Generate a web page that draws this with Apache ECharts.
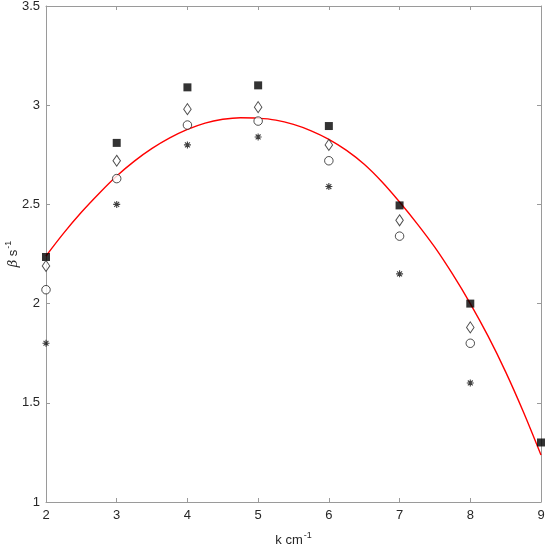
<!DOCTYPE html>
<html>
<head>
<meta charset="utf-8">
<script src="https://cdn.jsdelivr.net/npm/echarts@6/dist/echarts.min.js"></script>
<style>html,body{margin:0;padding:0;background:#fff;}#c{width:550px;height:547px;}</style>
</head>
<body>
<div id="c"></div>
<script>
// Data
const kValues = [2, 3, 4, 5, 6, 7, 8, 9];
const squareBeta   = [2.235, 2.81, 3.09, 3.10, 2.895, 2.495, 2.00, 1.30];
const diamondBeta  = [2.19, 2.72, 2.98, 2.99, 2.80, 2.42, 1.88, null];
const circleBeta   = [2.07, 2.63, 2.90, 2.92, 2.72, 2.34, 1.80, null];
const asteriskBeta = [1.80, 2.50, 2.80, 2.84, 2.59, 2.15, 1.60, null];
const fitK    = [2, 2.25, 2.5, 2.75, 3, 3.25, 3.5, 3.75, 4, 4.25, 4.5, 4.75, 5, 5.25, 5.5, 5.75, 6, 6.25, 6.5, 6.75, 7, 7.25, 7.5, 7.75, 8, 8.25, 8.5, 8.75, 9];
const fitBeta = [2.24, 2.355, 2.46, 2.555, 2.643, 2.718, 2.782, 2.835, 2.878, 2.91, 2.929, 2.937, 2.935, 2.925, 2.903, 2.871, 2.828, 2.772, 2.702, 2.614, 2.512, 2.402, 2.283, 2.148, 2.0, 1.837, 1.656, 1.455, 1.237];
const xTicks = [2, 3, 4, 5, 6, 7, 8, 9];
const yTicks = [1, 1.5, 2, 2.5, 3, 3.5];

function pairs(xs, ys) {
  const out = [];
  for (let i = 0; i < xs.length; i++) if (ys[i] != null) out.push([xs[i], ys[i]]);
  return out;
}

const font = 'Liberation Sans, Arial, Helvetica, sans-serif';
const axisColor = '#9a9a9a';
const labelColor = '#262626';
const asteriskPath = 'path://M5,0 L5,10 M0,5 L10,5 M1.5,1.5 L8.5,8.5 M1.5,8.5 L8.5,1.5';

const chart = echarts.init(document.getElementById('c'), null, {renderer: 'canvas'});
const commonAxisLine = {show: true, lineStyle: {color: axisColor, width: 1}};
const commonTick = {show: true, inside: true, length: 4, lineStyle: {color: axisColor}};

chart.setOption({
  animation: false,
  backgroundColor: '#fff',
  grid: {left: 46, right: 9, top: 6, bottom: 45, containLabel: false, outerBoundsMode: 'none'},
  xAxis: [{
    type: 'value', min: xTicks[0], max: xTicks[xTicks.length - 1], interval: 1,
    position: 'bottom',
    axisLine: commonAxisLine, axisTick: commonTick, splitLine: {show: false},
    axisLabel: {color: labelColor, fontFamily: font, fontSize: 13, margin: 7},
    name: '{n|k cm}{s|-1}', nameLocation: 'middle', nameGap: 29, nameMoveOverlap: false,
    nameTextStyle: {
      color: labelColor, fontFamily: font,
      rich: {
        n: {fontSize: 13, fontFamily: font, color: labelColor, verticalAlign: 'bottom', lineHeight: 16},
        s: {fontSize: 9, fontFamily: font, color: labelColor, verticalAlign: 'top', lineHeight: 16, padding: [0, 0, 0, 1]}
      }
    }
  }, {
    type: 'value', min: xTicks[0], max: xTicks[xTicks.length - 1], interval: 1,
    position: 'top',
    axisLine: commonAxisLine, axisTick: commonTick, splitLine: {show: false},
    axisLabel: {show: false}
  }],
  yAxis: [{
    type: 'value', min: yTicks[0], max: yTicks[yTicks.length - 1], interval: 0.5,
    position: 'left',
    axisLine: commonAxisLine, axisTick: commonTick, splitLine: {show: false},
    axisLabel: {color: labelColor, fontFamily: font, fontSize: 13, margin: 6},
    name: '{b|β} {n|s}{s|-1}', nameLocation: 'middle', nameGap: 26, nameMoveOverlap: false,
    nameTextStyle: {
      color: labelColor, fontFamily: font,
      rich: {
        b: {fontSize: 13, fontFamily: 'DejaVu Serif, serif', fontStyle: 'italic', color: labelColor, verticalAlign: 'bottom', lineHeight: 16},
        n: {fontSize: 13, fontFamily: font, color: labelColor, verticalAlign: 'bottom', lineHeight: 16},
        s: {fontSize: 9, fontFamily: font, color: labelColor, verticalAlign: 'top', lineHeight: 16, padding: [0, 0, 0, 1]}
      }
    }
  }, {
    type: 'value', min: yTicks[0], max: yTicks[yTicks.length - 1], interval: 0.5,
    position: 'right',
    axisLine: commonAxisLine, axisTick: commonTick, splitLine: {show: false},
    axisLabel: {show: false}
  }],
  series: [
    {
      type: 'line', data: pairs(fitK, fitBeta), smooth: 0.3, symbol: 'none',
      lineStyle: {color: '#ff0000', width: 1.4}, z: 2
    },
    {
      type: 'scatter', data: pairs(kValues, squareBeta), symbol: 'rect', symbolSize: 8,
      itemStyle: {color: '#000'}, z: 3
    },
    {
      type: 'scatter', data: pairs(kValues, diamondBeta), symbol: 'diamond', symbolSize: [7.5, 11],
      itemStyle: {color: '#fff', borderColor: '#222', borderWidth: 1}, z: 3
    },
    {
      type: 'scatter', data: pairs(kValues, circleBeta), symbol: 'circle', symbolSize: 8.5,
      itemStyle: {color: '#fff', borderColor: '#222', borderWidth: 1}, z: 3
    },
    {
      type: 'scatter', data: pairs(kValues, asteriskBeta), symbol: asteriskPath, symbolSize: 7,
      itemStyle: {color: 'none', borderColor: '#111', borderWidth: 1.1}, z: 3
    }
  ]
});
</script>
</body>
</html>
